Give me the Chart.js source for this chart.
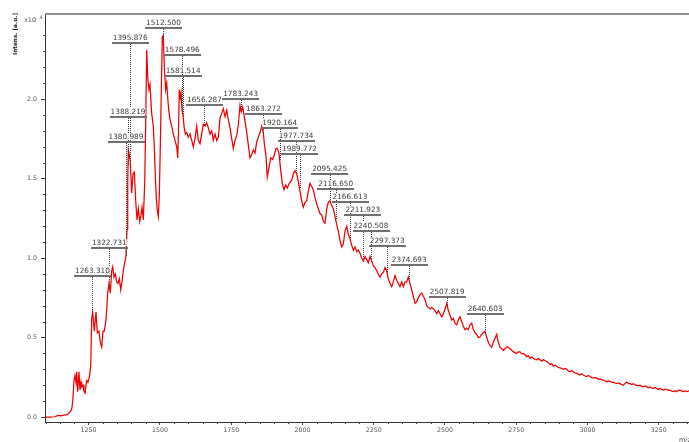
<!DOCTYPE html>
<html><head><meta charset="utf-8">
<script src="https://cdn.jsdelivr.net/npm/chart.js@4.4.0/dist/chart.umd.min.js"></script>
<style>html,body{margin:0;padding:0;background:#fff;overflow:hidden}canvas{display:block}</style>
</head><body>
<canvas id="c" width="689" height="442"></canvas>
<script>
const mz = [
1097.0,1114.5,1132.1,1142.6,1153.1,1163.7,1174.2,1181.2,1188.2,1191.7,
1195.2,1198.7,1202.2,1205.7,1208.2,1211.7,1216.3,1219.8,1223.3,1225.7,
1230.3,1233.8,1237.3,1240.8,1243.3,1247.8,1252.4,1257.3,1260.8,1264.3,
1269.9,1275.9,1280.5,1286.4,1291.0,1295.9,1300.5,1305.0,1311.0,1317.0,
1321.5,1326.1,1331.0,1334.5,1339.1,1343.6,1348.5,1353.1,1357.6,1362.6,
1367.1,1371.7,1376.6,1381.1,1384.7,1387.1,1389.2,1392.7,1396.2,1401.1,
1405.7,1410.3,1415.2,1419.7,1424.3,1429.2,1433.8,1437.3,1441.8,1446.7,
1450.3,1453.8,1457.3,1461.8,1465.3,1468.8,1471.3,1476.9,1480.4,1483.9,
1487.4,1490.9,1494.5,1498.0,1501.5,1505.0,1508.5,1512.0,1515.5,1520.4,
1523.9,1527.4,1531.0,1535.5,1541.5,1547.1,1553.0,1559.0,1562.5,1565.3,
1568.1,1571.3,1574.1,1577.6,1581.1,1584.6,1589.2,1594.1,1599.7,1605.7,
1611.6,1617.2,1623.2,1629.2,1634.8,1640.7,1646.7,1652.3,1658.3,1664.2,
1669.9,1675.8,1681.8,1687.4,1693.4,1699.3,1704.9,1710.9,1716.9,1722.5,
1728.4,1734.4,1740.0,1746.0,1752.0,1757.6,1763.5,1769.5,1775.1,1781.1,
1785.6,1790.5,1795.1,1799.7,1804.6,1810.2,1816.1,1822.1,1827.7,1833.7,
1839.6,1845.2,1851.2,1857.2,1862.8,1866.3,1872.3,1876.8,1882.8,1888.8,
1895.8,1901.4,1907.3,1911.9,1917.9,1923.8,1929.5,1935.4,1941.4,1947.0,
1954.0,1962.4,1968.0,1974.0,1980.0,1985.6,1991.5,1997.5,2003.1,2009.1,
2015.0,2020.7,2026.6,2032.6,2038.2,2044.2,2050.1,2055.7,2061.7,2067.7,
2073.3,2079.2,2085.2,2090.8,2096.8,2102.7,2108.4,2114.3,2120.3,2125.9,
2131.9,2137.8,2143.4,2149.4,2155.4,2161.0,2166.9,2172.9,2178.5,2184.5,
2190.4,2196.1,2202.0,2208.0,2213.6,2219.6,2225.5,2231.1,2237.1,2243.1,
2248.7,2254.6,2260.6,2266.2,2272.2,2278.1,2283.8,2289.7,2295.7,2301.3,
2307.3,2313.2,2318.8,2324.8,2330.8,2336.4,2342.3,2348.3,2353.9,2359.9,
2365.8,2371.5,2377.4,2383.4,2389.0,2395.0,2400.9,2406.5,2412.5,2418.5,
2424.1,2430.0,2436.0,2441.6,2447.6,2453.5,2459.2,2465.1,2471.1,2476.7,
2482.7,2488.6,2494.2,2500.2,2506.2,2511.8,2517.7,2523.7,2529.3,2535.3,
2541.2,2546.9,2552.8,2558.8,2564.4,2570.4,2576.3,2581.9,2587.9,2593.9,
2599.5,2605.4,2611.4,2617.0,2623.0,2628.9,2634.5,2640.5,2646.5,2652.1,
2658.1,2664.0,2669.6,2675.6,2681.6,2687.2,2693.1,2699.1,2704.7,2710.7,
2716.6,2722.3,2728.2,2734.2,2739.8,2745.8,2751.7,2757.3,
2763.3,2769.1,2774.9,2780.8,2786.8,2792.4,2798.4,2804.3,2810.0,2816.0,
2821.9,2827.5,2833.5,2839.4,2845.0,2851.0,2857.0,2862.6,2868.5,2874.5,
2880.1,2886.0,2892.0,2897.6,2903.6,2909.6,2915.2,2921.1,2927.1,2932.7,
2938.7,2944.6,2950.2,2956.2,2962.2,2967.8,2973.8,2979.7,2985.3,2991.3,
2997.3,3002.9,3008.9,3014.8,3020.4,3026.4,3032.4,3038.0,3043.9,3049.9,
3055.5,3061.5,3067.4,3073.0,3079.0,3085.0,3090.6,3096.5,3102.5,3108.1,
3114.1,3120.1,3125.7,3131.6,3137.6,3143.2,3149.2,3155.1,3160.7,3166.7,
3172.7,3178.3,3184.3,3190.2,3195.8,3201.8,3207.8,3213.4,3219.3,3225.3,
3230.9,3236.9,3242.8,3248.4,3254.4,3260.4,3266.0,3272.0,3277.9,3283.5,
3289.5,3295.5,3301.1,3307.0,3313.0,3318.6,3324.6,3330.6,3336.2,3342.1,
3348.1,3356.2];

const intensity = [
0.0,0.0,0.002,0.01,0.008,0.012,0.015,0.025,0.04,0.06,
0.12,0.23,0.26,0.22,0.285,0.16,0.285,0.17,0.22,0.19,
0.20,0.16,0.15,0.20,0.23,0.22,0.25,0.32,0.62,0.66,
0.54,0.66,0.53,0.54,0.47,0.44,0.54,0.54,0.61,0.78,
0.84,0.78,0.92,0.945,0.88,0.90,0.85,0.84,0.87,0.80,
0.85,0.92,0.97,1.01,1.18,1.47,1.68,1.65,1.60,1.41,
1.53,1.54,1.36,1.24,1.31,1.23,1.27,1.32,1.24,1.47,
1.85,2.31,2.14,2.06,2.09,1.98,1.91,1.83,1.70,1.52,
1.38,1.30,1.26,1.40,1.70,2.05,2.39,2.40,2.20,2.06,
2.10,2.01,1.93,1.87,1.83,1.78,1.74,1.70,1.63,1.80,
2.06,2.01,2.04,1.93,1.90,1.83,1.78,1.79,1.76,1.78,
1.74,1.70,1.75,1.83,1.74,1.72,1.78,1.84,1.83,1.85,
1.82,1.78,1.80,1.74,1.78,1.74,1.76,1.88,1.91,1.94,
1.89,1.93,1.87,1.82,1.75,1.69,1.74,1.77,1.84,1.96,
1.92,1.95,1.90,1.85,1.79,1.71,1.63,1.65,1.68,1.66,
1.73,1.76,1.79,1.83,1.79,1.72,1.64,1.51,1.57,1.63,
1.62,1.65,1.69,1.69,1.66,1.55,1.47,1.43,1.46,1.44,
1.47,1.49,1.53,1.55,1.53,1.48,1.42,1.36,1.32,1.35,
1.36,1.42,1.47,1.45,1.43,1.38,1.34,1.31,1.28,1.27,
1.23,1.22,1.31,1.35,1.36,1.33,1.31,1.26,1.21,1.17,
1.11,1.07,1.09,1.17,1.20,1.15,1.12,1.08,1.05,1.07,
1.04,1.05,1.03,1.00,0.98,1.01,0.99,0.97,1.01,0.98,
0.95,0.94,0.92,0.90,0.88,0.90,0.91,0.94,0.92,0.87,
0.84,0.82,0.85,0.89,0.86,0.84,0.82,0.85,0.82,0.85,
0.85,0.88,0.84,0.80,0.76,0.715,0.725,0.75,0.77,0.78,
0.76,0.74,0.70,0.69,0.68,0.69,0.68,0.67,0.65,0.67,
0.65,0.63,0.65,0.68,0.715,0.67,0.64,0.61,0.62,0.59,
0.58,0.61,0.63,0.60,0.57,0.55,0.56,0.55,0.58,0.59,
0.55,0.53,0.52,0.50,0.505,0.52,0.53,0.54,0.50,0.47,
0.45,0.44,0.47,0.495,0.52,0.47,0.44,0.43,0.42,0.43,
0.44,0.44,0.43,0.42,0.41,0.405,0.40,0.41,
0.41,0.398,0.40,0.392,0.38,0.386,0.37,0.378,0.37,0.362,
0.36,0.368,0.36,0.352,0.36,0.356,0.35,0.342,0.33,0.336,
0.32,0.326,0.32,0.312,0.31,0.305,0.30,0.306,0.30,0.29,
0.285,0.292,0.285,0.278,0.275,0.27,0.265,0.272,0.265,0.258,
0.255,0.262,0.255,0.248,0.245,0.25,0.245,0.238,0.24,0.236,
0.233,0.228,0.22,0.227,0.225,0.218,0.22,0.214,0.21,0.215,
0.21,0.204,0.20,0.212,0.22,0.212,0.21,0.204,0.21,0.202,
0.20,0.196,0.20,0.193,0.19,0.196,0.19,0.184,0.19,0.183,
0.18,0.186,0.18,0.174,0.18,0.173,0.17,0.176,0.175,0.168,
0.17,0.163,0.16,0.166,0.16,0.168,0.17,0.163,0.16,0.164,
0.16,0.165];

const peakMz = [1263.310,1322.731,1380.989,1388.219,1395.876,1512.500,1578.496,1581.514,1656.287,1783.243,
1863.272,1920.164,1977.734,1989.772,2095.425,2116.650,2166.613,2211.923,2240.508,2297.373,2374.693,2507.819,2640.603];
const labelLevel = [0.887,1.063,1.730,1.887,2.352,2.447,2.277,2.145,1.962,2.000,
1.906,1.818,1.736,1.654,1.528,1.434,1.352,1.270,1.170,1.075,0.956,0.755,0.648];

const xTicks = [1250,1500,1750,2000,2250,2500,2750,3000,3250];
const yTicks = [0.0,0.5,1.0,1.5,2.0];
const xRange = [1097,3356];
const yRange = [-0.031,2.535];

function valueAt(m){
  for(let i=0;i<mz.length-1;i++){
    if(m>=mz[i] && m<=mz[i+1]){
      const t=(m-mz[i])/(mz[i+1]-mz[i]);
      return intensity[i]+(intensity[i+1]-intensity[i])*t;
    }
  }
  return 0;
}

const pts = [];
for(let i=0;i<Math.min(mz.length,intensity.length);i++) pts.push({x:mz[i],y:intensity[i]});

const FONT='"DejaVu Sans", sans-serif';
const annot = {
  id:'annot',
  afterDatasetsDraw(chart){
    const {ctx, scales} = chart; const xs=scales.x, ys=scales.y;
    ctx.save();
    ctx.strokeStyle='#3a3a3a'; ctx.lineWidth=1; ctx.setLineDash([1,1]);
    peakMz.forEach((m,i)=>{
      const xp=Math.round(xs.getPixelForValue(m))+0.5;
      const yb=Math.round(ys.getPixelForValue(labelLevel[i]));
      const yp=ys.getPixelForValue(valueAt(m));
      ctx.beginPath(); ctx.moveTo(xp,yb+1); ctx.lineTo(xp,yp); ctx.stroke();
    });
    ctx.setLineDash([]);
    ctx.font='7.3px '+FONT; ctx.textAlign='center'; ctx.textBaseline='alphabetic';
    peakMz.forEach((m,i)=>{
      const txt=m.toFixed(3);
      const xp=xs.getPixelForValue(m);
      const yb=Math.round(ys.getPixelForValue(labelLevel[i]));
      const w=ctx.measureText(txt).width;
      ctx.fillStyle='#fff'; ctx.fillRect(xp-w/2,yb-9,w,7);
      ctx.fillStyle='#3a3a3a'; ctx.fillText(txt,xp,yb-3);
      ctx.fillStyle='#707070'; ctx.fillRect(Math.round(xp-w/2-1),yb-1,Math.round(w+2),2);
    });
    ctx.restore();
  },
  afterDraw(chart){
    const {ctx, scales, chartArea:ca} = chart; const xs=scales.x, ys=scales.y;
    ctx.save();
    ctx.fillStyle='#8e8e8e'; ctx.fillRect(ca.left,ca.top-1,ca.right-ca.left,2);
    ctx.strokeStyle='#444'; ctx.lineWidth=1;
    ctx.beginPath();
    for(let v=1100; v<=3350; v+=50){
      if(v%250===0) continue;
      const p=Math.round(xs.getPixelForValue(v))+0.5;
      ctx.moveTo(p,ca.bottom); ctx.lineTo(p,ca.bottom+2);
    }
    for(let k=1;k<=25;k++){
      if(k%5===0) continue;
      const p=Math.round(ys.getPixelForValue(k/10))+0.5;
      ctx.moveTo(ca.left-2,p); ctx.lineTo(ca.left,p);
    }
    ctx.stroke();
    ctx.fillStyle='#222';
    let fs=6; ctx.font='bold '+fs+'px '+FONT;
    const tw=ctx.measureText('Intens. [a.u.]').width; fs=fs*42/tw;
    ctx.font='bold '+fs.toFixed(2)+'px '+FONT;
    ctx.save(); ctx.translate(16,13); ctx.rotate(-Math.PI/2);
    ctx.textAlign='right'; ctx.textBaseline='middle';
    ctx.fillText('Intens. [a.u.]',0,0); ctx.restore();
    ctx.fillStyle='#555'; ctx.textAlign='left'; ctx.textBaseline='alphabetic';
    ctx.font='6.5px '+FONT; ctx.fillText('x10',24,22);
    ctx.font='5px '+FONT; ctx.fillText('4',39.5,18.5);
    ctx.font='6.5px '+FONT; ctx.fillText('m/z',679,442);
    ctx.restore();
  }
};

new Chart(document.getElementById('c').getContext('2d'),{
  type:'line',
  data:{datasets:[{data:pts,borderColor:'#f00000',borderWidth:1.25,pointRadius:0,tension:0,fill:false}]},
  options:{
    responsive:false, animation:false, devicePixelRatio:1,
    parsing:false, normalized:true,
    layout:{padding:{top:14,right:0,left:0,bottom:0}},
    plugins:{legend:{display:false},tooltip:{enabled:false}},
    scales:{
      x:{type:'linear',min:xRange[0],max:xRange[1],
        afterBuildTicks:s=>{s.ticks=xTicks.map(v=>({value:v}));},
        afterFit:s=>{s.height=20;},
        grid:{drawOnChartArea:false,tickLength:3,color:'#444'},
        border:{display:true,color:'#333',width:1},
        ticks:{font:{family:FONT,size:6.3},color:'#555',padding:2,maxRotation:0,autoSkip:false,callback:v=>String(v)}},
      y:{type:'linear',min:yRange[0],max:yRange[1],
        afterBuildTicks:s=>{s.ticks=yTicks.map(v=>({value:v}));},
        afterFit:s=>{s.width=45;},
        grid:{drawOnChartArea:false,tickLength:4,color:'#444'},
        border:{display:true,color:'#333',width:1},
        ticks:{font:{family:FONT,size:6.3},color:'#555',padding:4,autoSkip:false,callback:v=>v.toFixed(1)}}
    }
  },
  plugins:[annot]
});
</script>
</body></html>
